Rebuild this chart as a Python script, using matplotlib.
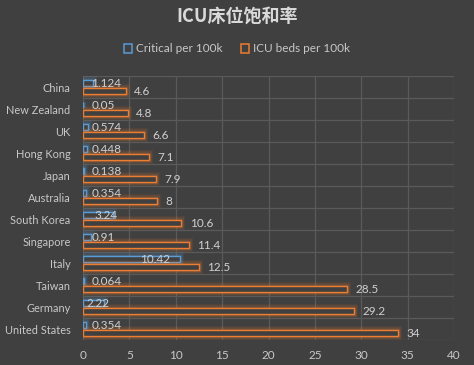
import matplotlib
matplotlib.use("Agg")
import matplotlib.pyplot as plt
import matplotlib.patheffects as pe
from matplotlib.patches import Patch
import numpy as np

plt.rcParams['font.family'] = ['Lato', 'Noto Sans CJK SC', 'DejaVu Sans']

countries = ["China", "New Zealand", "UK", "Hong Kong", "Japan", "Australia",
             "South Korea", "Singapore", "Italy", "Taiwan", "Germany", "United States"]
critical = [1.124, 0.05, 0.574, 0.448, 0.138, 0.354, 3.24, 0.91, 10.42, 0.064, 2.22, 0.354]
icu_beds = [4.6, 4.8, 6.6, 7.1, 7.9, 8, 10.6, 11.4, 12.5, 28.5, 29.2, 34]
critical_labels = ["1.124", "0.05", "0.574", "0.448", "0.138", "0.354", "3.24", "0.91", "10.42", "0.064", "2.22", "0.354"]
icu_labels = ["4.6", "4.8", "6.6", "7.1", "7.9", "8", "10.6", "11.4", "12.5", "28.5", "29.2", "34"]
xticks = [0, 5, 10, 15, 20, 25, 30, 35, 40]

BG = "#404040"
BLUE = "#5B9BD5"
ORANGE = "#ED7D31"
TXT = "#D0D0D0"
GRID = "#5A5A5A"
FS = 8.5

fig = plt.figure(figsize=(4.74, 3.65), dpi=100, facecolor=BG)
ax = fig.add_axes([83/474, 25/365, 371/474, 264/365], facecolor=BG)

y = np.arange(len(countries))
h = 0.26
off = 0.175

def glow(color):
    return [pe.Stroke(linewidth=6, foreground=color, alpha=0.08),
            pe.Stroke(linewidth=4, foreground=color, alpha=0.12),
            pe.Stroke(linewidth=2.5, foreground=color, alpha=0.18),
            pe.Normal()]

bb = ax.barh(y - off, critical, height=h, facecolor=BG, edgecolor=BLUE, linewidth=1.0, zorder=3)
ob = ax.barh(y + off, icu_beds, height=h, facecolor=BG, edgecolor=ORANGE, linewidth=1.0, zorder=3)
for r in bb:
    r.set_path_effects(glow(BLUE))
for r in ob:
    r.set_path_effects(glow(ORANGE))

for yi, v, lab in zip(y, critical, critical_labels):
    if v < 2:
        ax.text(0.9, yi - off, lab, ha='left', va='center', color=TXT, fontsize=FS, zorder=5)
    else:
        ax.text(v * 0.75, yi - off, lab, ha='center', va='center', color=TXT, fontsize=FS, zorder=5)
for yi, v, lab in zip(y, icu_beds, icu_labels):
    ax.text(v + 0.9, yi + off + 0.03, lab, ha='left', va='center', color=TXT, fontsize=FS, zorder=5)

ax.set_xlim(0, 40)
ax.set_ylim(len(countries) - 0.5, -0.5)
ax.set_xticks(xticks)
ax.set_xticklabels([str(t) for t in xticks])
ax.set_yticks(y)
ax.set_yticklabels(countries)
ax.set_yticks(np.arange(-0.5, len(countries), 1), minor=True)
ax.tick_params(axis='both', which='both', length=0, colors=TXT, labelsize=FS)
ax.tick_params(axis='y', labelsize=7.9, pad=9)
ax.tick_params(axis='x', pad=7)
for t in ax.get_xticklabels() + ax.get_yticklabels():
    t.set_color("#C8C8C8")
ax.grid(axis='x', which='major', color=GRID, linewidth=0.9, zorder=0)
ax.grid(axis='y', which='minor', color=GRID, linewidth=0.9, zorder=0)
ax.grid(axis='y', which='major', visible=False)
for s in ax.spines.values():
    s.set_visible(False)
ax.set_axisbelow(True)

fig.text(0.5, 1 - 16/365, "ICU床位饱和率", ha='center', va='center',
         color="#D9D9D9", fontsize=13, fontweight='bold',
         family=['Noto Sans CJK SC', 'DejaVu Sans'])

handles = [Patch(facecolor=BG, edgecolor=BLUE, linewidth=1.1, label="Critical per 100k"),
           Patch(facecolor=BG, edgecolor=ORANGE, linewidth=1.1, label="ICU beds per 100k")]
leg = fig.legend(handles=handles, loc='center', bbox_to_anchor=(0.5, 1 - 49/365), ncol=2,
                 frameon=False, fontsize=FS, handlelength=0.7, handleheight=0.7,
                 handletextpad=0.3, columnspacing=1.6)
for t in leg.get_texts():
    t.set_color("#C8C8C8")

fig.savefig("out.png", dpi=100, facecolor=BG)
